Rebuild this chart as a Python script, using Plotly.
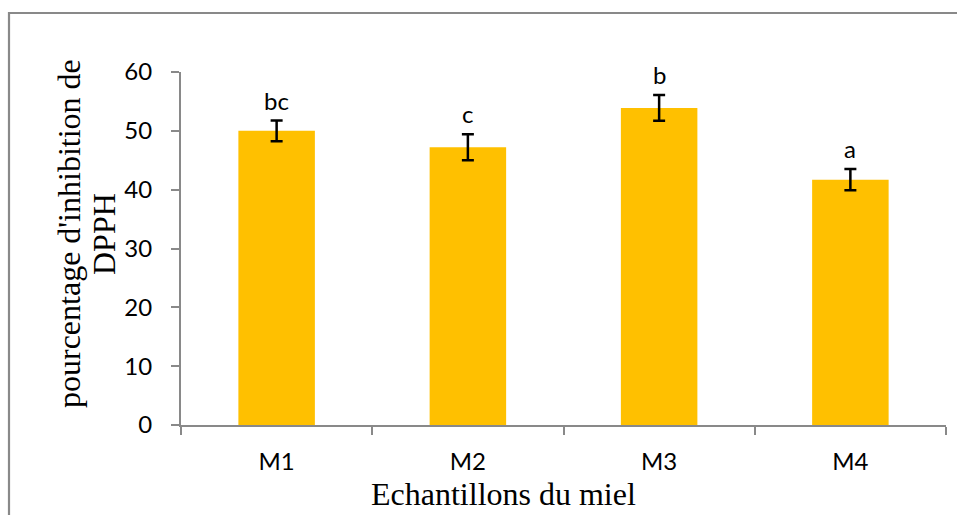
import plotly.graph_objects as go

categories = ["M1", "M2", "M3", "M4"]
values = [50.0, 47.2, 53.9, 41.7]
errors = [1.75, 2.2, 2.2, 1.8]
letters = ["bc", "c", "b", "a"]
y_ticks = [0, 10, 20, 30, 40, 50, 60]

GRAY = "#898989"
L, R, T, B = 181, 11, 72, 90
W, H = 957, 515
PW, PH = W - L - R, H - T - B

def px_x(p):
    return (p - L) / PW

def px_y(p):
    return (H - B - p) / PH

fig = go.Figure()
fig.add_trace(go.Bar(
    x=categories, y=values,
    marker=dict(color="#FFC000", line=dict(width=0)),
    width=0.4,
    error_y=dict(type="data", array=errors, visible=True,
                 color="black", thickness=2.5, width=6),
))

annotations = []
for c, v, e, t in zip(categories, values, errors, letters):
    annotations.append(dict(x=c, y=v + e, xref="x", yref="y", text=t,
                            showarrow=False, yanchor="bottom", yshift=4,
                            font=dict(family="Lato", size=24, color="black")))

annotations.append(dict(x=px_x(69), y=px_y(234), xref="paper", yref="paper",
                        text="pourcentage d'inhibition de", textangle=-90,
                        showarrow=False, xanchor="center", yanchor="middle",
                        font=dict(family="Liberation Serif", size=32, color="black")))
annotations.append(dict(x=px_x(104), y=px_y(234), xref="paper", yref="paper",
                        text="DPPH", textangle=-90,
                        showarrow=False, xanchor="center", yanchor="middle",
                        font=dict(family="Liberation Serif", size=32, color="black")))
annotations.append(dict(x=px_x(503), y=px_y(494), xref="paper", yref="paper",
                        text="Echantillons du miel",
                        showarrow=False, xanchor="center", yanchor="middle",
                        borderpad=0,
                        font=dict(family="Liberation Serif", size=32, color="black")))

fig.update_layout(
    width=W, height=H,
    margin=dict(l=L, r=R, t=T, b=B, pad=0),
    paper_bgcolor="white", plot_bgcolor="white",
    showlegend=False,
    bargap=0.6,
    annotations=annotations,
    shapes=[dict(type="rect", xref="paper", yref="paper",
                 x0=px_x(9), x1=px_x(1000), y0=px_y(560), y1=px_y(13),
                 line=dict(color=GRAY, width=2.2), fillcolor="rgba(0,0,0,0)",
                 layer="below")],
)
fig.update_xaxes(
    type="category", showline=True, linecolor=GRAY, linewidth=2,
    ticks="outside", tickson="boundaries", ticklen=8, tickcolor=GRAY, tickwidth=2,
    showgrid=False, zeroline=False,
    tickfont=dict(family="Lato", size=24, color="black"),
    ticklabelstandoff=14,
)
fig.update_yaxes(
    range=[0, 60], tickvals=y_ticks, showline=True, linecolor=GRAY, linewidth=2,
    ticks="outside", ticklen=8, tickcolor=GRAY, tickwidth=2,
    showgrid=False, zeroline=False,
    tickfont=dict(family="Lato", size=24, color="black"),
    ticklabelstandoff=14,
)
fig.write_html("out.html")
